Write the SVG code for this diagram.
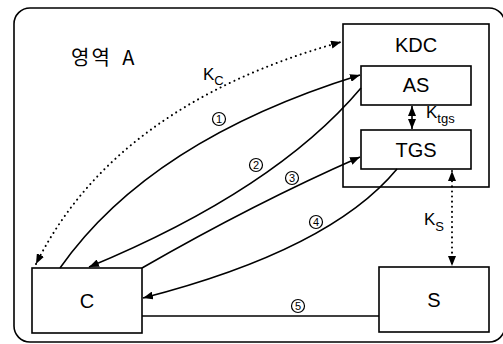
<svg xmlns="http://www.w3.org/2000/svg" width="503" height="344" viewBox="0 0 503 344">
<defs>
<marker id="ah" viewBox="0 0 10 8" refX="10" refY="4" markerWidth="10" markerHeight="8" markerUnits="userSpaceOnUse" orient="auto-start-reverse">
<path d="M0,0 L10,4 L0,8 Z" fill="#000"/>
</marker>
</defs>
<style>
.box{fill:#fff;stroke:#000;stroke-width:1.6}
.lbl{font-family:"Liberation Sans",Arial,sans-serif;font-size:20px;text-anchor:middle;fill:#000}
.k{font-family:"Liberation Sans",Arial,sans-serif;font-size:17px;fill:#000}
.sub{font-size:13px}
.nc{fill:#fff;stroke:#000;stroke-width:1.2}
.num{font-family:"Liberation Sans",Arial,sans-serif;font-size:11px;text-anchor:middle;fill:#000}
.ln{fill:none;stroke:#000;stroke-width:1.6}
.dot{fill:none;stroke:#000;stroke-width:2;stroke-dasharray:0.1 5;stroke-linecap:round}
</style>
<rect x="14" y="8" width="491" height="334" rx="16" fill="#fff" stroke="#000" stroke-width="1.6"/>
<text x="71" y="65" font-family="'Noto Sans CJK KR',sans-serif" font-size="20" letter-spacing="2" word-spacing="4" fill="#000">영역 A</text>
<g id="KDC">
<rect class="box" x="343" y="24" width="146" height="163"/>
<text class="lbl" x="416" y="52">KDC</text>
</g>
<g id="AS">
<rect class="box" x="361" y="66" width="110" height="39"/>
<text class="lbl" x="416" y="92">AS</text>
</g>
<g id="TGS">
<rect class="box" x="361" y="130" width="110" height="39"/>
<text class="lbl" x="416" y="157">TGS</text>
</g>
<g id="C">
<rect class="box" x="32" y="268" width="110" height="65"/>
<text class="lbl" x="87" y="308">C</text>
</g>
<g id="S">
<rect class="box" x="379" y="267" width="110" height="65"/>
<text class="lbl" x="434" y="307">S</text>
</g>
<g id="connectors">
<path class="dot" d="M36,264 Q115,105 341,42" marker-start="url(#ah)" marker-end="url(#ah)"/>
<path class="ln" d="M60,268 Q150,140 360,75" marker-end="url(#ah)"/>
<path class="ln" d="M361,88 Q275,190 89,267" marker-end="url(#ah)"/>
<path class="ln" d="M142,268 Q255,203 360,157" marker-end="url(#ah)"/>
<path class="ln" d="M397,169 Q330,250 143,298" marker-end="url(#ah)"/>
<path class="ln" d="M142,316 L379,316"/>
<path class="ln" d="M412,106 L412,129" marker-start="url(#ah)" marker-end="url(#ah)"/>
<path class="dot" d="M452,171 L452,266" marker-start="url(#ah)" marker-end="url(#ah)"/>
</g>
<text class="k" x="203" y="80">K<tspan class="sub" dy="5">C</tspan></text>
<text class="k" x="426" y="118">K<tspan class="sub" dy="5">tgs</tspan></text>
<text class="k" x="424" y="225">K<tspan class="sub" dy="6">S</tspan></text>
<g id="n1"><circle class="nc" cx="219" cy="119" r="6.5"/><text class="num" x="219" y="123">1</text></g>
<g id="n2"><circle class="nc" cx="256" cy="165" r="6.5"/><text class="num" x="256" y="169">2</text></g>
<g id="n3"><circle class="nc" cx="292" cy="178" r="6.5"/><text class="num" x="292" y="182">3</text></g>
<g id="n4"><circle class="nc" cx="316" cy="222" r="6.5"/><text class="num" x="316" y="226">4</text></g>
<g id="n5"><circle class="nc" cx="298" cy="306" r="6.5"/><text class="num" x="298" y="310">5</text></g>
</svg>
